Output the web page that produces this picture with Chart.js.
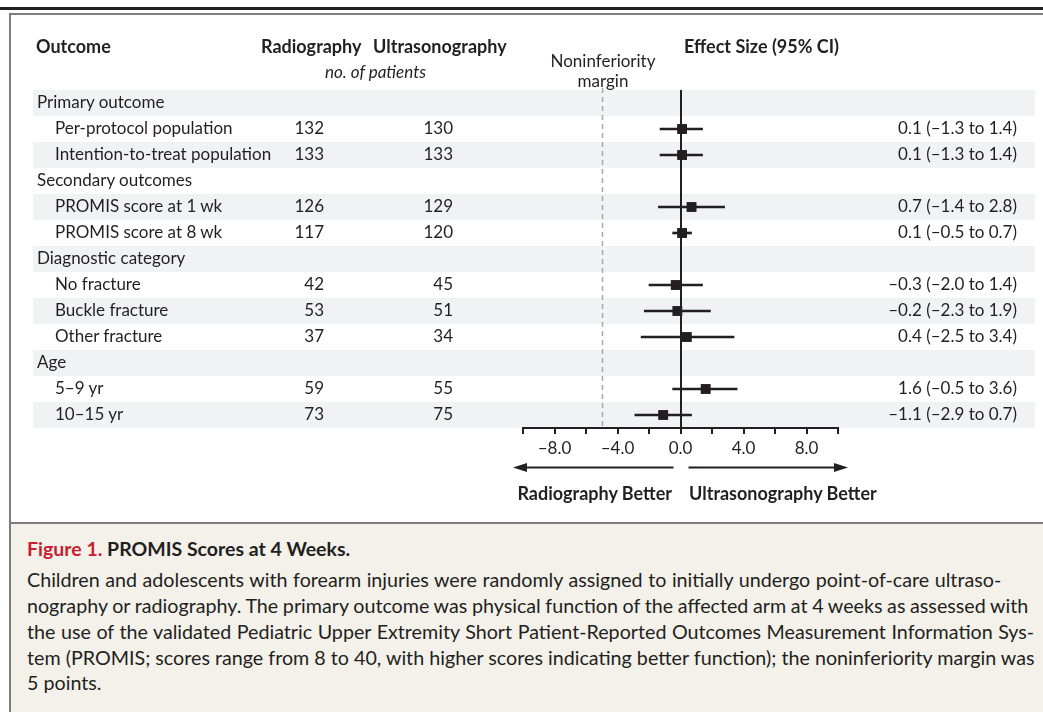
<!DOCTYPE html>
<html>
<head>
<meta charset="utf-8">
<script src="https://cdn.jsdelivr.net/npm/chart.js@4.4.0/dist/chart.umd.min.js"></script>
<style>
  body { margin: 0; width: 1043px; height: 712px; overflow: hidden; background: #fff;
         font-family: Lato, sans-serif; color: #231f20; position: relative; }
  .rule { position: absolute; left: 0; top: 7px; width: 1043px; height: 3px; background: #231f20; }
  .frame { position: absolute; left: 9px; top: 13px; width: 1034px; height: 699px;
           border-left: 2px solid #7d7d7d; border-top: 2px solid #7d7d7d; box-sizing: border-box; }
  .caption { position: absolute; left: 11px; top: 522px; width: 1032px; height: 190px;
             background: #f4f1eb; border-top: 2px solid #7d7d7d; }
  #graph { position: absolute; left: 0; top: 0; }
  .t { position: absolute; white-space: nowrap; font-size: 17px; line-height: 26px; }
  .b { font-weight: bold; font-size: 18px; }
  .cap { position: absolute; left: 27px; white-space: nowrap; font-size: 19.7px; line-height: 26px; }
</style>
</head>
<body>
<div class="rule"></div>
<div class="frame"></div>
<div class="caption"></div>
<canvas id="graph" width="1043" height="523"></canvas>
<div id="labels"></div>

<div class="t b" style="left:36px; top:33px;">Outcome</div>
<div class="t b" style="left:261px; top:33px;">Radiography</div>
<div class="t b" style="left:373px; top:33px;">Ultrasonography</div>
<div class="t" style="left:325px; top:59px; font-style:italic;">no. of patients</div>
<div class="t" style="left:543px; top:51px; width:120px; text-align:center; line-height:20px;">Noninferiority<br>margin</div>
<div class="t b" style="left:684px; top:33px;">Effect Size (95% CI)</div>
<div class="t b" style="right:371px; top:480px;">Radiography Better</div>
<div class="t b" style="left:689px; top:480px;">Ultrasonography Better</div>

<div class="cap" style="top:536px; font-weight:bold; font-size:19.5px;"><span style="color:#c8202f;">Figure 1.</span> PROMIS Scores at 4 Weeks.</div>
<div class="cap" style="top:567px; word-spacing:0.5px;">Children and adolescents with forearm injuries were randomly assigned to initially undergo point-of-care ultraso-</div>
<div class="cap" style="top:593px; word-spacing:-0.4px;">nography or radiography. The primary outcome was physical function of the affected arm at 4 weeks as assessed with</div>
<div class="cap" style="top:619px; word-spacing:0.5px;">the use of the validated Pediatric Upper Extremity Short Patient-Reported Outcomes Measurement Information Sys-</div>
<div class="cap" style="top:645px;">tem (PROMIS; scores range from 8 to 40, with higher scores indicating better function); the noninferiority margin was</div>
<div class="cap" style="top:670px;">5 points.</div>

<script>
// -------------------------
// DATA
// -------------------------
const outcomes = [
  "Primary outcome",
  "Per-protocol population",
  "Intention-to-treat population",
  "Secondary outcomes",
  "PROMIS score at 1 wk",
  "PROMIS score at 8 wk",
  "Diagnostic category",
  "No fracture",
  "Buckle fracture",
  "Other fracture",
  "Age",
  "5–9 yr",
  "10–15 yr"
];
const isGroup = [true, false, false, true, false, false, true, false, false, false, true, false, false];
const radiographyN =     [null, 132, 133, null, 126, 117, null, 42, 53, 37, null, 59, 73];
const ultrasonographyN = [null, 130, 133, null, 129, 120, null, 45, 51, 34, null, 55, 75];
const effect = [null, 0.1, 0.1, null, 0.7, 0.1, null, -0.3, -0.2, 0.4, null, 1.6, -1.1];
const ciLow  = [null, -1.3, -1.3, null, -1.4, -0.5, null, -2.0, -2.3, -2.5, null, -0.5, -2.9];
const ciHigh = [null, 1.4, 1.4, null, 2.8, 0.7, null, 1.4, 1.9, 3.4, null, 3.6, 0.7];
const xTicks = [-8, -4, 0, 4, 8];
const noninferiorityMargin = -5;

const INK = "#231f20";
const SHADE = "#f1f2f4";

let chart;

function fmt(v) {
  return v.toFixed(1).replace("-", "–");
}

// -------------------------
// DECORATION PLUGIN
// -------------------------
const forestDecor = {
  id: "forestDecor",
  beforeDraw(c) {
    const { ctx, chartArea, scales: { y } } = c;
    const band = (chartArea.bottom - chartArea.top) / outcomes.length;
    ctx.save();
    ctx.fillStyle = SHADE;
    outcomes.forEach((o, i) => {
      if (i % 2 === 0) ctx.fillRect(33, y.getPixelForValue(i) - band / 2, 1002, band);
    });
    ctx.restore();
  },
  beforeDatasetsDraw(c) {
    const { ctx, chartArea, scales: { x } } = c;
    ctx.save();
    // noninferiority margin
    const xm = Math.round(x.getPixelForValue(noninferiorityMargin)) + 0.5;
    ctx.strokeStyle = "#a9a9a9";
    ctx.lineWidth = 1.5;
    ctx.setLineDash([5, 4]);
    ctx.beginPath();
    ctx.moveTo(xm, chartArea.top - 2);
    ctx.lineTo(xm, chartArea.bottom);
    ctx.stroke();
    // zero line
    const x0 = Math.round(x.getPixelForValue(0));
    ctx.setLineDash([]);
    ctx.strokeStyle = INK;
    ctx.lineWidth = 2;
    ctx.beginPath();
    ctx.moveTo(x0, chartArea.top);
    ctx.lineTo(x0, chartArea.bottom);
    ctx.stroke();
    ctx.restore();
  },
  afterDraw(c) {
    const { ctx, chartArea, scales: { x } } = c;
    const ya = chartArea.bottom + 39.5;
    const x0 = x.getPixelForValue(0);
    const left = x.getPixelForValue(x.min) - 10;
    const right = x.getPixelForValue(x.max) + 10;
    ctx.save();
    ctx.strokeStyle = INK;
    ctx.fillStyle = INK;
    ctx.lineWidth = 2;
    ctx.beginPath();
    ctx.moveTo(left + 10, ya);
    ctx.lineTo(x0 - 7, ya);
    ctx.moveTo(x0 + 8, ya);
    ctx.lineTo(right - 10, ya);
    ctx.stroke();
    ctx.beginPath();
    ctx.moveTo(left, ya);
    ctx.lineTo(left + 14, ya - 4.5);
    ctx.lineTo(left + 14, ya + 4.5);
    ctx.closePath();
    ctx.moveTo(right, ya);
    ctx.lineTo(right - 14, ya - 4.5);
    ctx.lineTo(right - 14, ya + 4.5);
    ctx.closePath();
    ctx.fill();
    ctx.restore();
  }
};

// -------------------------
// INIT CHART
// -------------------------
function initChart() {
  const ctx = document.getElementById("graph").getContext("2d");

  chart = new Chart(ctx, {
    type: "bar",
    data: {
      labels: outcomes,
      datasets: [
        {
          label: "95% CI",
          data: outcomes.map((o, i) => (effect[i] === null ? null : [ciLow[i], ciHigh[i]])),
          backgroundColor: INK,
          borderWidth: 0,
          barThickness: 2
        },
        {
          type: "scatter",
          label: "Effect size",
          data: outcomes
            .map((o, i) => ({ x: effect[i], y: o }))
            .filter(p => p.x !== null),
          pointStyle: "rect",
          pointRadius: 7,
          pointHoverRadius: 7,
          backgroundColor: INK,
          borderColor: INK,
          borderWidth: 0
        }
      ]
    },
    options: {
      indexAxis: "y",
      responsive: false,
      animation: false,
      devicePixelRatio: 1,
      layout: { padding: { left: 523, right: 205, top: 90, bottom: 35 } },
      plugins: { legend: { display: false }, tooltip: { enabled: false } },
      scales: {
        y: { type: "category", display: false, offset: true },
        x: {
          type: "linear",
          min: -10,
          max: 10,
          afterFit: (scale) => { scale.height = 60; },
          ticks: {
            stepSize: 2,
            autoSkip: false,
            maxRotation: 0,
            padding: 4,
            color: INK,
            font: { family: "Lato", size: 17 },
            callback: (v) => (xTicks.includes(v) ? fmt(v) : "")
          },
          grid: { drawOnChartArea: false, drawTicks: true, tickLength: 6, color: INK, lineWidth: 2 },
          border: { display: true, color: INK, width: 2 }
        }
      }
    },
    plugins: [forestDecor]
  });
}

// -------------------------
// ROW TEXT
// -------------------------
function placeLabels() {
  const y = chart.scales.y;
  const box = document.getElementById("labels");
  outcomes.forEach((o, i) => {
    const top = Math.round(y.getPixelForValue(i)) - 14;
    const add = (text, style) => {
      const d = document.createElement("div");
      d.className = "t";
      d.style.cssText = style + "top:" + top + "px;";
      d.textContent = text;
      box.appendChild(d);
    };
    add(o, "left:" + (isGroup[i] ? 37 : 55) + "px;");
    if (radiographyN[i] !== null) add(String(radiographyN[i]), "right:719px;");
    if (ultrasonographyN[i] !== null) add(String(ultrasonographyN[i]), "right:590px;");
    if (effect[i] !== null) add(fmt(effect[i]) + " (" + fmt(ciLow[i]) + " to " + fmt(ciHigh[i]) + ")", "right:26px;");
  });
}

initChart();
placeLabels();
</script>
</body>
</html>
